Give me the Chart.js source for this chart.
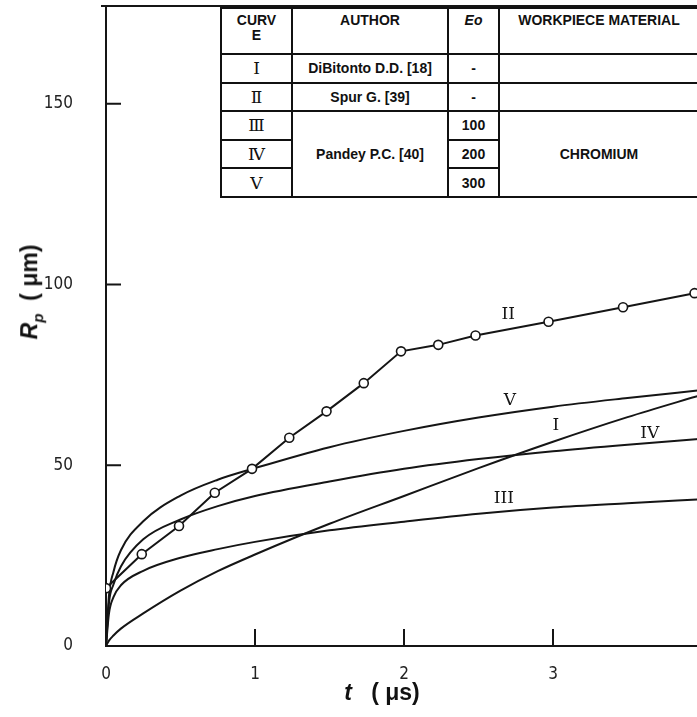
<!DOCTYPE html>
<html>
<head>
<meta charset="utf-8">
<title>Rp vs t</title>
<script src="https://cdn.jsdelivr.net/npm/chart.js@4.4.1/dist/chart.umd.min.js"></script>
<style>
  html, body { margin: 0; padding: 0; background: #fff; overflow: hidden; }
  #wrap { position: relative; width: 720px; height: 717px; }
  #chart { position: absolute; left: 0; top: 0; }
  #curveTable {
    position: absolute; left: 220px; top: 7px; width: 478px;
    border-collapse: collapse; table-layout: fixed; background: #fff;
    font-family: "Liberation Sans", Arial, sans-serif; font-weight: bold;
    font-size: 14px; color: #111;
  }
  #curveTable th, #curveTable td { border: 2px solid #111; text-align: center; padding: 0; }
  #curveTable th { vertical-align: top; padding-top: 4px; height: 40px; line-height: 15px; }
  #curveTable tr.r td { height: 26.6px; }
  #curveTable .rn { font-family: "DejaVu Serif", "Liberation Serif", serif; font-weight: normal; font-size: 17px; }
  .ytitle {
    position: absolute; left: 31px; top: 292px; transform: translate(-50%, -50%) rotate(-90deg);
    font: bold 23px "Liberation Sans", Arial, sans-serif; color: #111; white-space: pre;
  }
  .ytitle sub { font-size: 15px; font-style: italic; }
  .xtitle {
    position: absolute; left: 382px; top: 692px; transform: translate(-50%, -50%);
    font: bold 23px "Liberation Sans", Arial, sans-serif; color: #111; white-space: pre;
  }
</style>
</head>
<body>
<div id="wrap">
  <canvas id="chart" width="720" height="717"></canvas>
  <table id="curveTable">
    <colgroup><col style="width:71px"><col style="width:156px"><col style="width:51px"><col style="width:200px"></colgroup>
    <tr><th>CURV<br>E</th><th>AUTHOR</th><th><i>Eo</i></th><th>WORKPIECE MATERIAL</th></tr>
    <tr class="r"><td class="rn">Ⅰ</td><td>DiBitonto D.D. [18]</td><td>-</td><td></td></tr>
    <tr class="r"><td class="rn">Ⅱ</td><td>Spur G. [39]</td><td>-</td><td></td></tr>
    <tr class="r"><td class="rn">Ⅲ</td><td rowspan="3">Pandey P.C. [40]</td><td>100</td><td rowspan="3">CHROMIUM</td></tr>
    <tr class="r"><td class="rn">Ⅳ</td><td>200</td></tr>
    <tr class="r"><td class="rn">Ⅴ</td><td>300</td></tr>
  </table>
  <div class="ytitle"><i>R</i><sub>p</sub>  ( μm)</div>
  <div class="xtitle"><i>t</i>   ( μs)</div>
</div>
<script>
// time (µs) for the smooth model curves
const T_SMOOTH = [0, 0.02, 0.05, 0.1, 0.25, 0.5, 0.75, 1, 1.5, 2, 2.5, 3, 3.5, 4];
// Rp (µm)
const CURVE_I   = [0, 1.5, 2.9, 4.8, 9, 15.3, 20.7, 25.3, 33.8, 41.5, 49.2, 56.5, 63.3, 69.5];
const CURVE_III = [0, 9, 13.5, 16.8, 20.8, 24.4, 26.8, 28.8, 32, 34.4, 36.6, 38.3, 39.5, 40.6];
const CURVE_IV  = [0, 12, 17, 22, 29.5, 35, 38.7, 41.5, 45.5, 49, 51.7, 53.9, 55.7, 57.3];
const CURVE_V   = [0, 14, 20.5, 26.5, 34.5, 41.6, 46, 49.2, 55, 59.5, 63.2, 66.2, 68.6, 70.8];

// Spur G. measured points (curve II)
const T_SPUR   = [0, 0.24, 0.49, 0.73, 0.98, 1.23, 1.48, 1.73, 1.98, 2.23, 2.48, 2.97, 3.47, 3.95];
const CURVE_II = [16, 25.4, 33.2, 42.4, 49, 57.6, 64.9, 72.7, 81.5, 83.3, 85.9, 89.7, 93.7, 97.6];

// roman numeral tags placed next to the curves
const TAG_TEXT = ["II", "V", "I", "IV", "III"];
const TAG_T    = [2.70, 2.71, 3.02, 3.65, 2.67];
const TAG_R    = [91.7, 67.8, 61, 58.8, 40.8];

const X_TICKS = [1, 2, 3];
const Y_TICKS = [50, 100, 150];

const INK = "#151515";
const TICK_FONT = { family: '"DejaVu Sans Condensed", "DejaVu Sans", sans-serif', size: 17 };

function pts(xs, ys) {
  return xs.map((x, i) => ({ x, y: ys[i] }));
}

function smooth(data) {
  return {
    data, borderColor: INK, borderWidth: 2, pointRadius: 0,
    cubicInterpolationMode: "monotone", fill: false
  };
}

// inward tick marks, top frame line and curve tags
const frame = {
  id: "frame",
  afterDatasetsDraw(chart) {
    const { ctx, chartArea: a, scales: { x, y } } = chart;
    ctx.save();
    ctx.strokeStyle = INK;
    ctx.lineWidth = 2;
    ctx.beginPath();
    ctx.moveTo(a.left - 5, a.top);
    ctx.lineTo(a.right + 10, a.top);
    Y_TICKS.forEach(v => {
      const py = y.getPixelForValue(v);
      ctx.moveTo(a.left, py);
      ctx.lineTo(a.left + 15, py);
    });
    X_TICKS.forEach(v => {
      const px = x.getPixelForValue(v);
      ctx.moveTo(px, a.bottom);
      ctx.lineTo(px, a.bottom - 17);
    });
    ctx.stroke();

    ctx.fillStyle = INK;
    ctx.font = '17px "DejaVu Serif", "Liberation Serif", serif';
    ctx.textAlign = "center";
    ctx.textBaseline = "middle";
    TAG_TEXT.forEach((t, i) => {
      ctx.fillText(t, x.getPixelForValue(TAG_T[i]), y.getPixelForValue(TAG_R[i]));
    });
    ctx.restore();
  }
};

new Chart(document.getElementById("chart"), {
  type: "line",
  data: {
    datasets: [
      smooth(pts(T_SMOOTH, CURVE_I)),
      {
        data: pts(T_SPUR, CURVE_II), borderColor: INK, borderWidth: 2, tension: 0,
        pointRadius: 4.5, pointBackgroundColor: "#fff", pointBorderColor: INK, pointBorderWidth: 1.6
      },
      smooth(pts(T_SMOOTH, CURVE_III)),
      smooth(pts(T_SMOOTH, CURVE_IV)),
      smooth(pts(T_SMOOTH, CURVE_V))
    ]
  },
  options: {
    responsive: false,
    animation: false,
    devicePixelRatio: 1,
    layout: { padding: { top: 3, right: 18, left: 0, bottom: 0 } },
    plugins: { legend: { display: false }, tooltip: { enabled: false } },
    scales: {
      x: {
        type: "linear", min: 0, max: 4,
        grid: { display: false },
        border: { display: true, color: INK, width: 2 },
        ticks: { stepSize: 1, padding: 10, color: "#222", font: TICK_FONT, includeBounds: false, maxRotation: 0 },
        afterFit(s) { s.height = 71; }
      },
      y: {
        min: 0, max: 177,
        grid: { display: false },
        border: { display: true, color: INK, width: 2 },
        ticks: { stepSize: 50, padding: 25, color: "#222", font: TICK_FONT, includeBounds: false },
        afterFit(s) { s.width = 106; s.paddingTop = 0; s.paddingBottom = 0; }
      }
    }
  },
  plugins: [frame]
});
</script>
</body>
</html>
